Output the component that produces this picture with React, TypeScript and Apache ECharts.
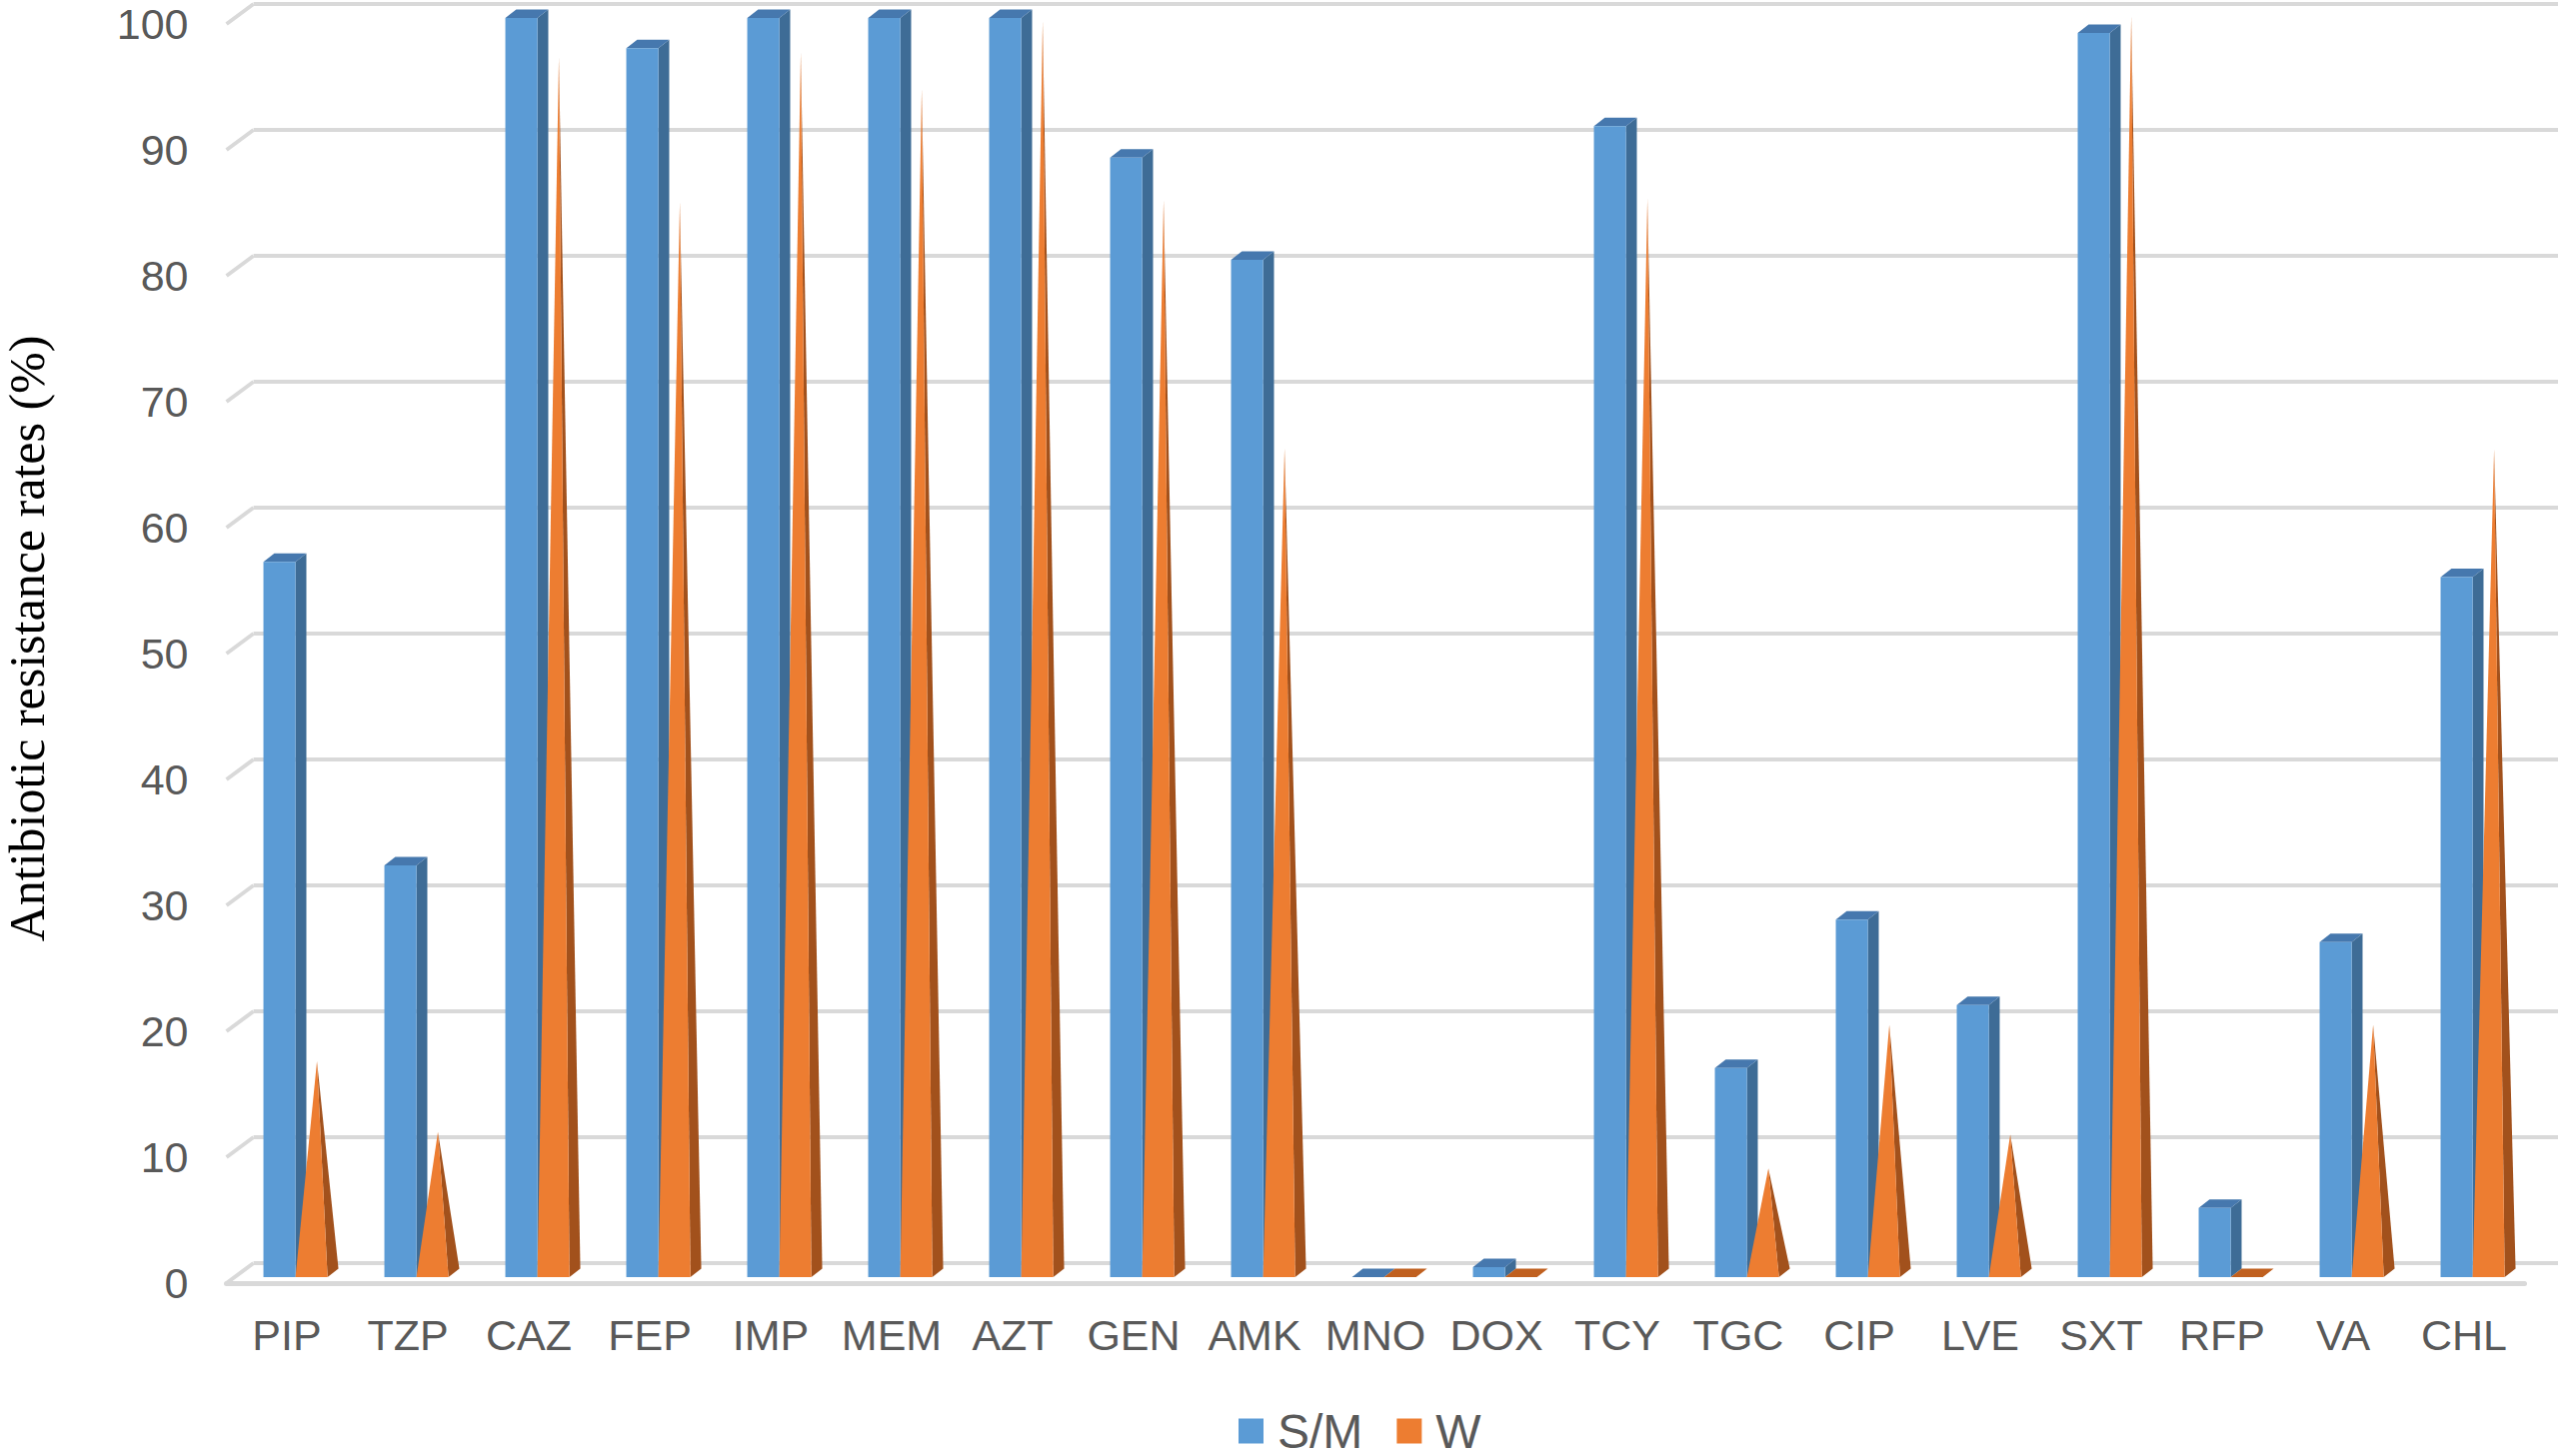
import React, { useEffect, useRef } from "react";
import * as echarts from "echarts";

const categories = ["PIP", "TZP", "CAZ", "FEP", "IMP", "MEM", "AZT", "GEN", "AMK", "MNO", "DOX", "TCY", "TGC", "CIP", "LVE", "SXT", "RFP", "VA", "CHL"];
const smValues = [56.8, 32.7, 100, 97.6, 100, 100, 100, 88.9, 80.8, 0, 0.8, 91.4, 16.6, 28.4, 21.6, 98.8, 5.5, 26.6, 55.6];
const wValues = [16.8, 11.2, 96.5, 85.0, 96.9, 94.0, 99.4, 85.2, 65.5, 0, 0, 85.3, 8.3, 19.7, 11.0, 99.8, 0, 19.7, 65.4];
const tickValues = [0, 10, 20, 30, 40, 50, 60, 70, 80, 90, 100];
const seriesNames = ["S/M", "W"];
const yTitle = "Antibiotic resistance rates (%)";

const BLUE = { front: "#5B9BD5", side: "#3E6C96", top: "#4678AE" };
const ORANGE = { front: "#ED7D31", side: "#A2511C", top: "#C0601F" };
const GRID_COLOR = "#D9D9D9";
const TEXT_GRAY = "#595959";
const SANS = "'Liberation Sans', Arial, sans-serif";

function makeBarRender(kind: "blue" | "orange") {
  return (params: any, api: any) => {
    const idx = api.value(0);
    const v = api.value(1);
    const top = api.coord([idx, v]);
    const base = api.coord([idx, 0]);
    const band = api.size([1, 0])[0];
    const w = band * 0.265;
    const dx = band * 0.09;
    const dy = 8.5;
    const xc = top[0];
    const xL = kind === "blue" ? xc - w : xc;
    const xR = kind === "blue" ? xc : xc + w;
    const yb = base[1];
    const yt = top[1];
    const col = kind === "blue" ? BLUE : ORANGE;
    const children: any[] = [];
    if (v <= 0) {
      children.push({
        type: "polygon",
        shape: { points: [[xL, yb], [xR, yb], [xR + dx, yb - dy], [xL + dx, yb - dy]] },
        style: { fill: col.top },
      });
      return { type: "group", children };
    }
    if (kind === "blue") {
      children.push({
        type: "polygon",
        shape: { points: [[xR, yb], [xR + dx, yb - dy], [xR + dx, yt - dy], [xR, yt]] },
        style: { fill: col.side },
      });
      children.push({
        type: "polygon",
        shape: { points: [[xL, yt], [xR, yt], [xR + dx, yt - dy], [xL + dx, yt - dy]] },
        style: { fill: col.top },
      });
      children.push({
        type: "rect",
        shape: { x: xL, y: yt, width: w, height: yb - yt },
        style: { fill: col.front },
      });
    } else {
      const apex = [(xL + xR) / 2 + dx / 2, yt - dy / 2];
      children.push({
        type: "polygon",
        shape: { points: [[xR, yb], [xR + dx, yb - dy], apex] },
        style: { fill: col.side },
      });
      children.push({
        type: "polygon",
        shape: { points: [[xL, yb], [xR, yb], apex] },
        style: { fill: col.front },
      });
    }
    return { type: "group", children };
  };
}

function diagRender(params: any, api: any) {
  const v = api.value(1);
  const p = api.coord([0, v]);
  return {
    type: "line",
    shape: { x1: p[0], y1: p[1], x2: p[0] - 27, y2: p[1] + 20 },
    style: { stroke: GRID_COLOR, lineWidth: 4 },
  };
}

export default function App() {
  const ref = useRef<HTMLDivElement>(null);
  useEffect(() => {
    if (!ref.current) return;
    const chart = echarts.init(ref.current, undefined, { renderer: "svg" });
    const option: any = {
      animation: false,
      backgroundColor: "#ffffff",
      grid: [
        { left: 235.1, right: 24.9, top: 18, height: 1260 },
        { left: 226.5, right: 33.5, top: 24, height: 1260 },
        { left: 253.6, right: 0, top: 4, height: 1260 },
      ],
      xAxis: [
        { type: "category", gridIndex: 0, data: categories, show: false },
        {
          type: "category",
          gridIndex: 1,
          data: categories,
          axisLine: { show: true, lineStyle: { color: GRID_COLOR, width: 5 } },
          axisTick: { show: false },
          axisLabel: { fontSize: 43, color: TEXT_GRAY, fontFamily: SANS, margin: 30, interval: 0 },
        },
        { type: "value", gridIndex: 2, min: 0, max: 1, show: false },
      ],
      yAxis: [
        { type: "value", gridIndex: 0, min: 0, max: 100, show: false },
        {
          type: "value",
          gridIndex: 1,
          min: 0,
          max: 100,
          interval: 10,
          axisLine: { show: false },
          axisTick: { show: false },
          splitLine: { show: false },
          axisLabel: { fontSize: 43, color: TEXT_GRAY, fontFamily: SANS, margin: 38 },
        },
        {
          type: "value",
          gridIndex: 2,
          min: 0,
          max: 100,
          interval: 10,
          axisLine: { show: false },
          axisTick: { show: false },
          axisLabel: { show: false },
          splitLine: { show: true, lineStyle: { color: GRID_COLOR, width: 4 } },
        },
      ],
      legend: {
        data: seriesNames,
        left: 1239,
        top: 1408,
        icon: "rect",
        itemWidth: 25,
        itemHeight: 25,
        itemGap: 34,
        padding: 0,
        textStyle: { fontSize: 48, color: TEXT_GRAY, fontFamily: SANS, padding: [0, 0, 0, 9] },
      },
      graphic: [
        {
          type: "text",
          x: 27,
          y: 639,
          rotation: Math.PI / 2,
          style: {
            text: yTitle,
            font: "50px 'Liberation Serif', 'Times New Roman', serif",
            fill: "#000000",
            align: "center",
            verticalAlign: "middle",
          },
        },
      ],
      series: [
        {
          type: "custom",
          name: "",
          xAxisIndex: 2,
          yAxisIndex: 2,
          silent: true,
          renderItem: diagRender,
          data: tickValues.map((t) => [0, t]),
        },
        {
          type: "custom",
          name: seriesNames[0],
          xAxisIndex: 0,
          yAxisIndex: 0,
          silent: true,
          itemStyle: { color: BLUE.front },
          renderItem: makeBarRender("blue"),
          encode: { x: 0, y: 1 },
          data: smValues.map((v, i) => [i, v]),
        },
        {
          type: "custom",
          name: seriesNames[1],
          xAxisIndex: 0,
          yAxisIndex: 0,
          silent: true,
          itemStyle: { color: ORANGE.front },
          renderItem: makeBarRender("orange"),
          encode: { x: 0, y: 1 },
          data: wValues.map((v, i) => [i, v]),
        },
      ],
    };
    chart.setOption(option);
    return () => chart.dispose();
  }, []);
  return (
    <div
      ref={ref}
      style={{ position: "fixed", left: 0, top: 0, width: 2559, height: 1457, background: "#fff" }}
    />
  );
}
